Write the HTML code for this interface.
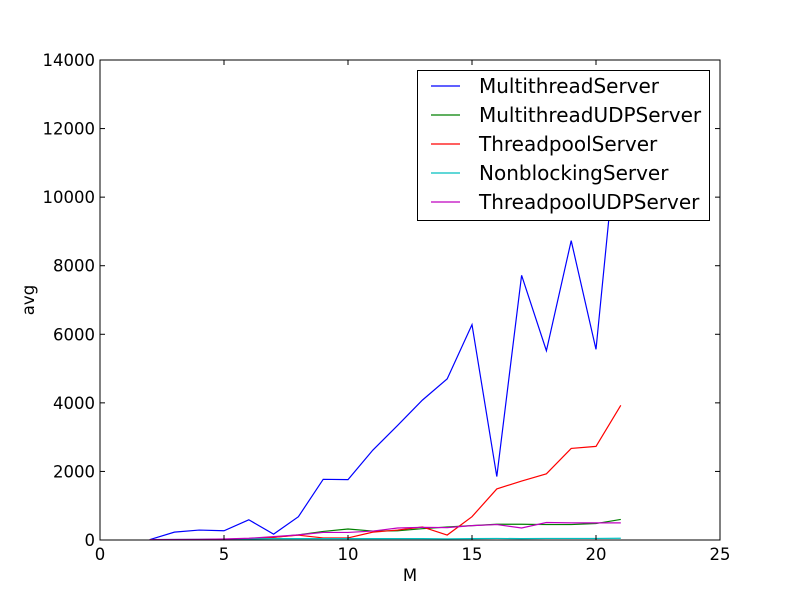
<!DOCTYPE html>
<html><head><meta charset="utf-8"><style>
html,body{margin:0;padding:0;background:#fff;}
svg text{font-family:"DejaVu Sans","Liberation Sans",sans-serif;}
</style></head><body>
<svg id="chart" width="800" height="600" xmlns="http://www.w3.org/2000/svg">
<rect width="800" height="600" fill="#fff"/>
<g id="plot"></g>
</svg>
<script>
const xs = [2,3,4,5,6,7,8,9,10,11,12,13,14,15,16,17,18,19,20,21];
const multithreadServer = [10,230,290,270,590,170,680,1770,1760,2620,3340,4080,4700,6280,1850,7720,5520,8730,5560,12900];
const multithreadUDPServer = [0,5,10,15,40,80,150,250,320,260,270,330,380,420,460,460,450,450,480,600];
const threadpoolServer = [0,5,10,20,40,80,140,60,60,230,290,380,145,680,1490,1720,1930,2670,2730,3930];
const nonblockingServer = [10,15,20,25,30,40,40,40,40,40,40,40,35,40,45,40,45,45,45,50];
const threadpoolUDPServer = [10,15,20,30,50,100,150,220,220,260,350,370,360,420,450,350,510,500,500,500];
const xTicks = [0,5,10,15,20,25];
const yTicks = [0,2000,4000,6000,8000,10000,12000,14000];
const seriesNames = ["MultithreadServer","MultithreadUDPServer","ThreadpoolServer","NonblockingServer","ThreadpoolUDPServer"];
const seriesColors = ["#0000ff","#008000","#ff0000","#00bfbf","#bf00bf"];

const L=100,R=720,T=60,B=540;
const sx=v=>L+(v-0)/(25-0)*(R-L);
const sy=v=>B-(v-0)/(14000-0)*(B-T);
const NS="http://www.w3.org/2000/svg";
const g=document.getElementById('plot');
function mk(tag,attrs,parent){const e=document.createElementNS(NS,tag);for(const k in attrs)e.setAttribute(k,attrs[k]);(parent||g).appendChild(e);return e;}

const defs=mk('defs',{});
const cp=mk('clipPath',{id:'clip'},defs);
mk('rect',{x:L,y:T,width:R-L,height:B-T},cp);

const data=[multithreadServer,multithreadUDPServer,threadpoolServer,nonblockingServer,threadpoolUDPServer];
const lines=mk('g',{'clip-path':'url(#clip)'});
data.forEach((arr,i)=>{
  const p=mk('polyline',{points:xs.map((x,j)=>sx(x)+','+sy(arr[j])).join(' '),fill:'none',stroke:seriesColors[i],'stroke-width':1.2},lines);
  
  
});

const fr=mk('rect',{x:L,y:T,width:R-L,height:B-T,fill:'none',stroke:'#000','stroke-width':1});



xTicks.forEach(t=>{
  const x=sx(t);
  mk('line',{x1:x,x2:x,y1:B,y2:B-5,stroke:'#000'});
  mk('line',{x1:x,x2:x,y1:T,y2:T+5,stroke:'#000'});
  const tx=mk('text',{x:x,y:B+20,'text-anchor':'middle','font-size':16.5});
  tx.textContent=t;
  
  
});
yTicks.forEach(t=>{
  const y=sy(t);
  mk('line',{x1:L,x2:L+5,y1:y,y2:y,stroke:'#000'});
  mk('line',{x1:R,x2:R-5,y1:y,y2:y,stroke:'#000'});
  const tx=mk('text',{x:L-5,y:y+6,'text-anchor':'end','font-size':16.5});
  tx.textContent=t;
  
  
});
const xl=mk('text',{x:410,y:581,'text-anchor':'middle','font-size':16.5});
xl.textContent='M';


const yl=mk('text',{x:34,y:300,'text-anchor':'middle','font-size':16.5,transform:'rotate(-90 34 300)'});
yl.textContent='avg';



const lg=mk('g',{});


mk('rect',{x:417.5,y:70.5,width:292,height:150,fill:'#fff',stroke:'#000','stroke-width':1},lg);
seriesNames.forEach((n,i)=>{
  const y=86+i*29;
  const e=mk('g',{},lg);
  
  
  mk('line',{x1:431,x2:460,y1:y,y2:y,stroke:seriesColors[i],'stroke-width':1.2},e);
  const t=mk('text',{x:479,y:y+7,'font-size':20},e);
  t.textContent=n;
});
</script>
</body></html>
